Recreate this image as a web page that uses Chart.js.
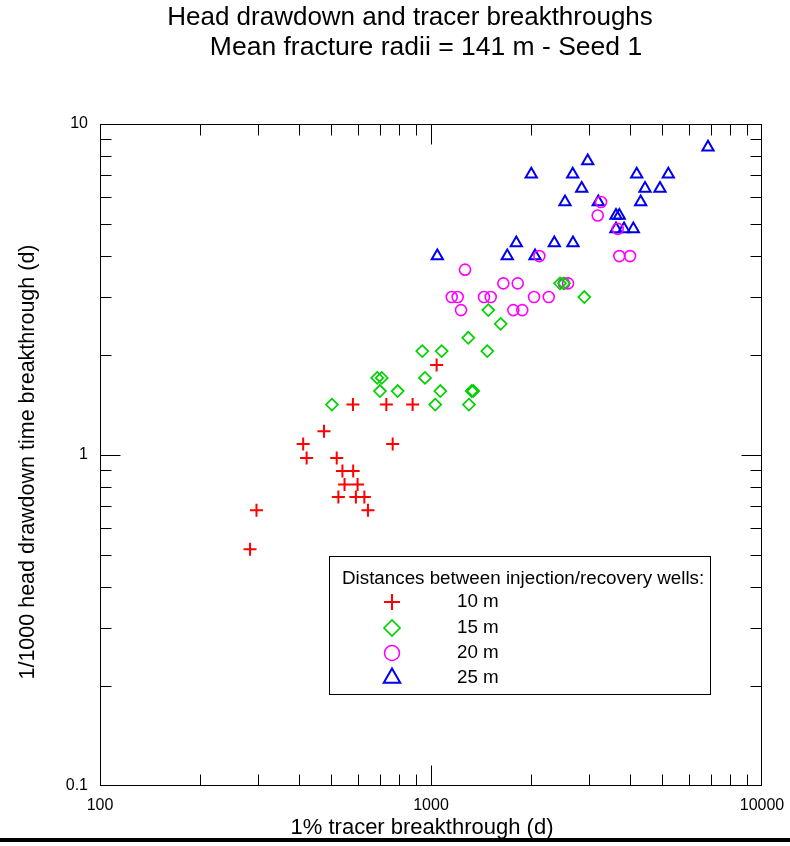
<!DOCTYPE html>
<html>
<head>
<meta charset="utf-8">
<title>Head drawdown and tracer breakthroughs</title>
<script src="https://cdn.jsdelivr.net/npm/chart.js@4.4.1/dist/chart.umd.min.js"></script>
<style>
  html, body { margin: 0; padding: 0; background: #fff; }
  canvas { display: block; }
</style>
</head>
<body>
<canvas id="breakthroughChart" width="790" height="846"></canvas>
<script>
// 1% tracer breakthrough (d) against 1/1000 head drawdown time (d), one series per well spacing
const x10m = [1040, 581, 733, 880, 475, 411, 766, 421, 519, 540, 582, 548, 600, 525, 593, 629, 645, 297, 284]
const y10m = [1.87, 1.42, 1.42, 1.42, 1.18, 1.08, 1.08, 0.98, 0.98, 0.895, 0.895, 0.815, 0.815, 0.746, 0.746, 0.746, 0.681, 0.681, 0.519]

const x15m = [502, 688, 710, 701, 793, 959, 1030, 1067, 941, 1077, 1327, 1342, 1302, 1296, 1479, 1490, 1624, 2453, 2522, 2905]
const y15m = [1.42, 1.71, 1.71, 1.56, 1.56, 1.71, 1.42, 1.56, 2.06, 2.06, 1.56, 1.56, 1.42, 2.26, 2.06, 2.74, 2.49, 3.3, 3.3, 3.0]

const x20m = [1267, 1155, 1204, 1232, 1446, 1515, 1654, 1828, 1773, 1887, 2048, 2125, 2268, 2522, 2594, 3189, 3264, 3665, 3706, 3993]
const y20m = [3.63, 3.0, 3.0, 2.74, 3.0, 3.0, 3.3, 3.3, 2.74, 2.74, 3.0, 3.99, 3.0, 3.3, 3.3, 5.29, 5.81, 4.82, 3.99, 3.99]

const x25m = [1045, 1700, 1810, 2009, 2062, 2358, 2540, 2680, 2685, 2853, 2975, 3202, 3622, 3706, 3622, 3830, 4086, 4183, 4300, 4432, 4918, 5212, 6868]
const y25m = [3.99, 3.99, 4.37, 7.05, 3.99, 4.37, 5.81, 7.05, 4.37, 6.39, 7.73, 5.81, 5.29, 5.29, 4.82, 4.82, 4.82, 7.05, 5.81, 6.39, 6.39, 7.05, 8.5]

const seriesLabels = ["10 m", "15 m", "20 m", "25 m"]
const xTickLabels = [100, 1000, 10000]
const yTickLabels = [0.1, 1, 10]

const FONT = "'Liberation Sans', Arial, Helvetica, sans-serif"

const markers = [
  { style: "cross", color: "#ff0000", radius: 6.5, width: 2, legendRadius: 8 },
  { style: "rectRot", color: "#00d200", radius: 6, width: 1.7, legendRadius: 8 },
  { style: "circle", color: "#ff00ff", radius: 5.5, width: 1.6, legendRadius: 7.5 },
  { style: "triangle", color: "#0000ee", radius: 6.5, width: 2, legendRadius: 9.5 },
]

function toPoints(xs, ys) {
  return xs.map((v, i) => ({ x: v, y: ys[i] }))
}

const seriesData = [toPoints(x10m, y10m), toPoints(x15m, y15m), toPoints(x20m, y20m), toPoints(x25m, y25m)]

// log ticks 1..9 per decade, without the two ends (the frame covers them)
function logTicks(lo, hi) {
  const out = []
  for (let d = lo; d < hi * 0.99; d *= 10) {
    for (let m = 1; m < 10; m++) out.push({ v: d * m, major: m === 1 })
  }
  return out.slice(1)
}

// frame, inward ticks, titles and the boxed legend
const decorations = {
  id: "decorations",
  afterDraw(chart) {
    const { ctx, chartArea: a, scales } = chart
    const sx = scales.x
    const sy = scales.y
    const L = Math.round(a.left) + 0.5
    const R = Math.round(a.right) - 0.5
    const T = Math.round(a.top) + 0.5
    const B = Math.round(a.bottom) - 0.5

    ctx.save()
    ctx.strokeStyle = "#000"
    ctx.lineWidth = 1
    ctx.strokeRect(L, T, R - L, B - T)

    ctx.beginPath()
    logTicks(100, 10000).forEach(t => {
      const px = Math.round(sx.getPixelForValue(t.v)) + 0.5
      const len = t.major ? 20 : 11
      ctx.moveTo(px, B); ctx.lineTo(px, B - len)
      ctx.moveTo(px, T); ctx.lineTo(px, T + len)
    })
    logTicks(0.1, 10).forEach(t => {
      const py = Math.round(sy.getPixelForValue(t.v)) + 0.5
      const len = t.major ? 20 : 11
      ctx.moveTo(L, py); ctx.lineTo(L + len, py)
      ctx.moveTo(R, py); ctx.lineTo(R - len, py)
    })
    ctx.stroke()

    // chart title
    ctx.fillStyle = "#000"
    ctx.textBaseline = "middle"
    ctx.textAlign = "center"
    ctx.font = "26px " + FONT
    ctx.fillText("Head drawdown and tracer breakthroughs", 410, 18)
    ctx.font = "26.5px " + FONT
    ctx.fillText("Mean fracture radii = 141 m - Seed 1", 426, 48)

    // axis titles
    ctx.font = "22px " + FONT
    ctx.fillText("1% tracer breakthrough (d)", 422, 828)
    ctx.font = "21.5px " + FONT
    ctx.save()
    ctx.translate(28, 462)
    ctx.rotate(-Math.PI / 2)
    ctx.fillText("1/1000 head drawdown time breakthrough (d)", 0, 0)
    ctx.restore()

    // legend box
    ctx.fillStyle = "#fff"
    ctx.fillRect(330, 557, 380, 137)
    ctx.strokeStyle = "#000"
    ctx.strokeRect(329.5, 556.5, 381, 138)
    ctx.fillStyle = "#000"
    ctx.textAlign = "left"
    ctx.font = "18.8px " + FONT
    ctx.fillText("Distances between injection/recovery wells:", 342, 579)

    const rows = [602, 628, 653, 678]
    seriesLabels.forEach((lbl, i) => {
      const m = markers[i]
      ctx.strokeStyle = m.color
      ctx.fillStyle = "rgba(0,0,0,0)"
      ctx.lineWidth = m.width
      Chart.helpers.drawPoint(ctx, { pointStyle: m.style, rotation: 0, radius: m.legendRadius, borderWidth: m.width }, 392, rows[i])
      ctx.fillStyle = "#000"
      ctx.fillText(lbl, 457, rows[i])
    })

    // heavy rule along the bottom edge
    ctx.fillRect(0, 838, 790, 4)
    ctx.restore()
  },
}

const ctx = document.getElementById("breakthroughChart")

new Chart(ctx, {
  type: "scatter",
  data: {
    datasets: seriesData.map((pts, i) => ({
      label: seriesLabels[i],
      data: pts,
      pointStyle: markers[i].style,
      pointRadius: markers[i].radius,
      pointBorderWidth: markers[i].width,
      pointBorderColor: markers[i].color,
      pointBackgroundColor: "rgba(0,0,0,0)",
      showLine: false,
    })),
  },
  options: {
    responsive: false,
    animation: false,
    events: [],
    layout: { padding: { top: 124, right: 28, left: 0, bottom: 0 } },
    plugins: {
      legend: { display: false },
      title: { display: false },
      tooltip: { enabled: false },
    },
    scales: {
      x: {
        type: "logarithmic",
        position: "bottom",
        min: 100,
        max: 10000,
        afterBuildTicks: s => { s.ticks = xTickLabels.map(v => ({ value: v })) },
        afterFit: s => {
          s.height = 60
          s.paddingLeft = 0
          s.paddingRight = 0
        },
        ticks: {
          callback: v => String(v),
          color: "#000",
          font: { size: 16, family: FONT },
          padding: 10,
          maxRotation: 0,
          autoSkip: false,
        },
        grid: { display: false, drawTicks: false },
        border: { display: false },
      },
      y: {
        type: "logarithmic",
        position: "left",
        min: 0.1,
        max: 10,
        afterBuildTicks: s => { s.ticks = yTickLabels.map(v => ({ value: v })) },
        afterFit: s => {
          s.width = 100
          s.paddingTop = 0
          s.paddingBottom = 0
        },
        ticks: {
          callback: v => String(v),
          color: "#000",
          font: { size: 16, family: FONT },
          padding: 12,
          autoSkip: false,
        },
        grid: { display: false, drawTicks: false },
        border: { display: false },
      },
    },
  },
  plugins: [decorations],
})
</script>
</body>
</html>
